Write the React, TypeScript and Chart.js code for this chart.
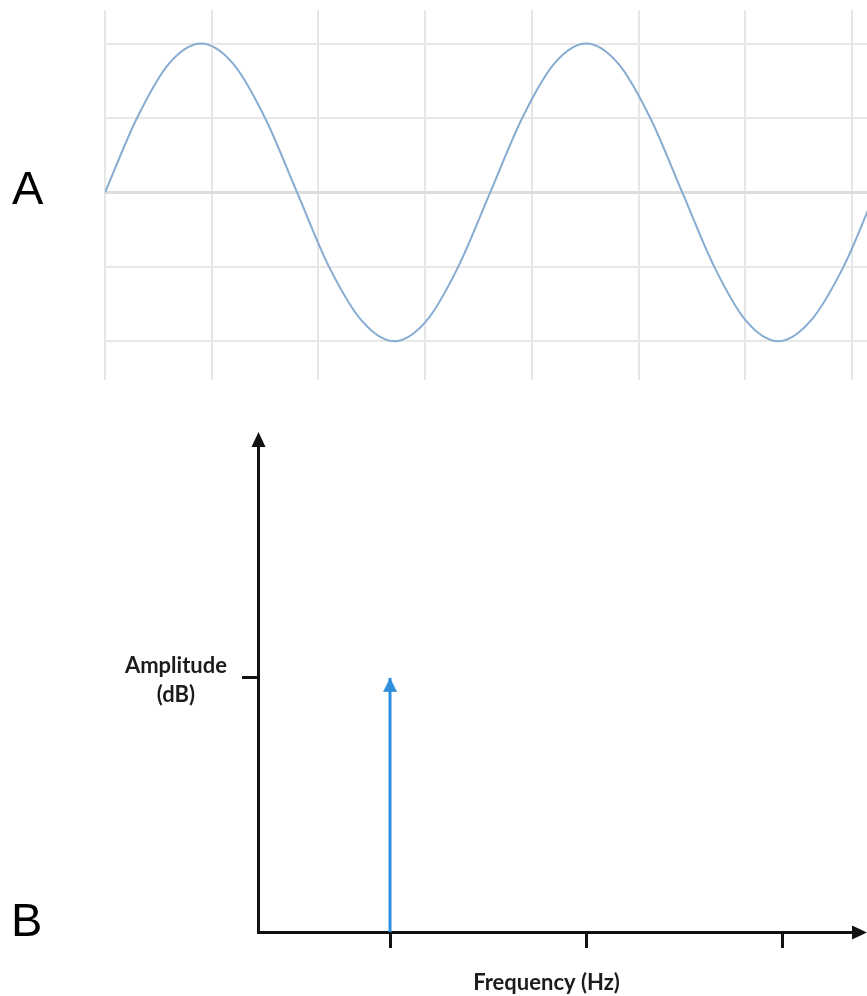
import React, { useEffect, useRef } from 'react';
import { Chart, registerables } from 'chart.js';

Chart.register(...registerables);

// ---------- Panel A: time-domain sine wave (x and y in grid divisions) ----------
const waveX = [0, 0.30, 0.60, 0.90, 1.20, 1.50, 1.80, 2.10, 2.41, 2.71, 3.01, 3.31, 3.61, 3.91, 4.21, 4.51, 4.81, 5.11, 5.41, 5.71, 6.01, 6.31, 6.61, 6.92, 7.22];
const waveY = [0, 1.0, 1.73, 2.0, 1.73, 1.0, 0, -1.0, -1.73, -2.0, -1.73, -1.0, 0, 1.0, 1.73, 2.0, 1.73, 1.0, 0, -1.0, -1.73, -2.0, -1.73, -1.0, 0];
const gridXTicks = [0, 1, 2, 3, 4, 5, 6, 7];
const gridYTicks = [-2, -1, 0, 1, 2];

// ---------- Panel B: frequency spectrum ----------
const freqTicks = [1, 2, 3];
const ampTicks = [1];
const ampTickLabel = ['Amplitude', '(dB)'];
const spectrumFreq = [1, 1];
const spectrumAmp = [0, 1];
const xAxisTitle = 'Frequency (Hz)';
const panelLabels = ['A', 'B'];

const WAVE = '#86acd2';
const BLUE = '#2f8fdc';
const INK = '#111111';
const TEXT = '#1c1c1c';

export default function App() {
  const refA = useRef<HTMLCanvasElement>(null);
  const refB = useRef<HTMLCanvasElement>(null);

  useEffect(() => {
    const chartA = new Chart(refA.current as HTMLCanvasElement, {
      type: 'line',
      data: {
        datasets: [
          {
            data: waveX.map((x, i) => ({ x, y: waveY[i] })),
            borderColor: WAVE,
            borderWidth: 2,
            pointRadius: 0,
            cubicInterpolationMode: 'monotone',
            fill: false,
          },
        ],
      },
      options: {
        responsive: false,
        animation: false,
        events: [],
        layout: { padding: { left: 105, top: 10, right: 0, bottom: 10 } },
        plugins: { legend: { display: false }, tooltip: { enabled: false } },
        scales: {
          x: {
            type: 'linear',
            min: 0,
            max: 7.141,
            afterBuildTicks: (s: any) => {
              s.ticks = gridXTicks.map((v) => ({ value: v }));
            },
            ticks: { display: false },
            border: { display: false },
            grid: { color: '#e6e6e6', lineWidth: 2, drawTicks: false },
          },
          y: {
            type: 'linear',
            min: -2.52,
            max: 2.45,
            afterBuildTicks: (s: any) => {
              s.ticks = gridYTicks.map((v) => ({ value: v }));
            },
            ticks: { display: false },
            border: { display: false },
            grid: {
              color: (c: any) => (c.tick && c.tick.value === 0 ? '#dcdcdc' : '#e8e8e8'),
              lineWidth: (c: any) => (c.tick && c.tick.value === 0 ? 3 : 2),
              drawTicks: false,
            },
          },
        },
      },
    } as any);

    const head = document.createElement('canvas');
    head.width = 14;
    head.height = 30;
    const hc = head.getContext('2d') as CanvasRenderingContext2D;
    hc.fillStyle = BLUE;
    hc.beginPath();
    hc.moveTo(7, 15);
    hc.lineTo(14, 29);
    hc.lineTo(0, 29);
    hc.closePath();
    hc.fill();

    const axisArrows = {
      id: 'axisArrows',
      afterDraw(chart: any) {
        const { ctx, chartArea: a, scales } = chart;
        const x0 = scales.y.right;
        const y0 = scales.x.top;
        ctx.save();
        ctx.fillStyle = INK;
        ctx.strokeStyle = INK;
        ctx.lineWidth = 3;
        ctx.beginPath();
        ctx.moveTo(a.right - 1, y0 + 0.5);
        ctx.lineTo(a.right + 20, y0 + 0.5);
        ctx.stroke();
        ctx.beginPath();
        ctx.moveTo(a.right + 32, y0 + 0.5);
        ctx.lineTo(a.right + 17, y0 - 6.5);
        ctx.lineTo(a.right + 17, y0 + 7.5);
        ctx.closePath();
        ctx.fill();
        ctx.beginPath();
        ctx.moveTo(x0 + 0.5, a.top - 12);
        ctx.lineTo(x0 + 7.5, a.top + 3);
        ctx.lineTo(x0 - 6.5, a.top + 3);
        ctx.closePath();
        ctx.fill();
        ctx.restore();
      },
    };

    const labelFont = { family: 'Lato', size: 22, weight: 'bold', lineHeight: 1.32 };

    const chartB = new Chart(refB.current as HTMLCanvasElement, {
      type: 'line',
      data: {
        datasets: [
          {
            data: spectrumFreq.map((x, i) => ({ x, y: spectrumAmp[i] })),
            borderColor: BLUE,
            borderWidth: 3,
            pointRadius: [0, 7],
            pointHoverRadius: 0,
            pointStyle: ['circle', head],
            pointBackgroundColor: BLUE,
            pointBorderWidth: 0,
            fill: false,
          },
        ],
      },
      options: {
        responsive: false,
        animation: false,
        events: [],
        layout: { padding: { left: 0, top: 40, right: 32, bottom: 0 } },
        plugins: { legend: { display: false }, tooltip: { enabled: false } },
        scales: {
          x: {
            type: 'linear',
            min: 0.328,
            max: 3.265,
            afterBuildTicks: (s: any) => {
              s.ticks = freqTicks.map((v) => ({ value: v }));
            },
            afterFit: (s: any) => {
              s.height = 64;
            },
            ticks: { display: false },
            grid: { drawOnChartArea: false, drawTicks: true, tickLength: 16, color: INK, lineWidth: 3 },
            border: { color: INK, width: 3 },
            title: {
              display: true,
              text: xAxisTitle,
              color: TEXT,
              font: { family: 'Lato', size: 22, weight: 'bold', lineHeight: 1.2 },
              padding: { top: 0, bottom: 0 },
            },
          },
          y: {
            type: 'linear',
            min: 0,
            max: 1.92,
            afterBuildTicks: (s: any) => {
              s.ticks = ampTicks.map((v) => ({ value: v }));
            },
            afterFit: (s: any) => {
              s.width = 258;
            },
            ticks: {
              callback: () => ampTickLabel,
              crossAlign: 'center',
              padding: 15,
              labelOffset: 2.5,
              color: TEXT,
              font: labelFont,
            },
            grid: { drawOnChartArea: false, drawTicks: true, tickLength: 16, color: INK, lineWidth: 3 },
            border: { color: INK, width: 3 },
          },
        },
      },
      plugins: [axisArrows],
    } as any);

    return () => {
      chartA.destroy();
      chartB.destroy();
    };
  }, []);

  const letter: React.CSSProperties = {
    position: 'absolute',
    fontFamily: '"Liberation Sans", Arial, sans-serif',
    fontSize: 47,
    lineHeight: '47px',
    color: '#000',
  };

  return (
    <div style={{ position: 'absolute', left: 0, top: 0, width: 867, height: 996, background: '#fff', overflow: 'hidden' }}>
      <canvas ref={refA} width={867} height={390} style={{ position: 'absolute', left: 0, top: 0, display: 'block' }} />
      <canvas ref={refB} width={867} height={596} style={{ position: 'absolute', left: 0, top: 400, display: 'block' }} />
      <div style={{ ...letter, left: 12, top: 164 }}>{panelLabels[0]}</div>
      <div style={{ ...letter, left: 11, top: 896 }}>{panelLabels[1]}</div>
    </div>
  );
}
